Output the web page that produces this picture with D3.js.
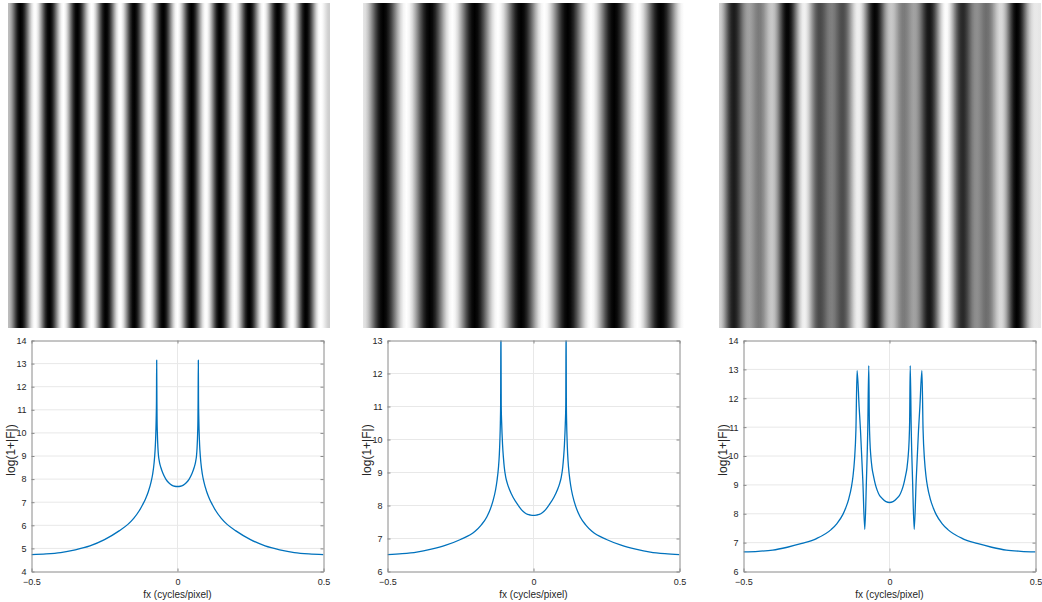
<!DOCTYPE html>
<html>
<head>
<meta charset="utf-8">
<script src="https://cdn.jsdelivr.net/npm/d3@7"></script>
<style>
  body { margin: 0; background: #fff; }
  text { font-family: "Liberation Sans", Arial, sans-serif; }
</style>
</head>
<body>
<svg id="fig" width="1042" height="602"></svg>
<script>
// grating extrema, position as fraction of image width, gray 0..1
const grating1Pos  = [0, .039, .084, .128, .172, .215, .260, .304, .348, .392, .437, .482, .526, .570, .615, .658, .704, .749, .793, .838, .882, .925, .970, 1]
const grating1Gray = [.75, 0, 1, 0, 1, 0, 1, 0, 1, 0, 1, 0, 1, 0, 1, 0, 1, 0, 1, 0, 1, 0, 1, .8]
const grating2Pos  = [0, .063, .135, .207, .277, .347, .419, .491, .563, .636, .708, .780, .852, .925, .997, 1]
const grating2Gray = [.9, 0, 1, 0, 1, 0, 1, 0, 1, 0, 1, 0, 1, 0, 1, 1]

// spectra, log(1+|F|) against fx
const fx1 = [-0.5, -0.45, -0.4, -0.35, -0.3, -0.25, -0.2, -0.17, -0.15, -0.13, -0.12, -0.11, -0.1, -0.09, -0.085, -0.08, -0.077, -0.075, -0.073, -0.072, -0.0713, -0.0705, -0.07, -0.069, -0.067, -0.065, -0.062, -0.057, -0.05, -0.04, -0.03, -0.02, -0.01, 0,
  0.01, 0.02, 0.03, 0.04, 0.05, 0.057, 0.062, 0.065, 0.067, 0.069, 0.07, 0.0705, 0.0713, 0.072, 0.073, 0.075, 0.077, 0.08, 0.085, 0.09, 0.1, 0.11, 0.12, 0.13, 0.15, 0.17, 0.2, 0.25, 0.3, 0.35, 0.4, 0.45, 0.5]
const mag1 = [4.73, 4.76, 4.82, 4.94, 5.11, 5.38, 5.76, 6.04, 6.3, 6.65, 6.88, 7.13, 7.45, 7.9, 8.22, 8.72, 9.2, 9.7, 10.6, 11.4, 13.15, 11.3, 10.6, 10.0, 9.35, 9.0, 8.75, 8.5, 8.25, 8.0, 7.84, 7.74, 7.69, 7.68,
  7.69, 7.74, 7.84, 8.0, 8.25, 8.5, 8.75, 9.0, 9.35, 10.0, 10.6, 11.3, 13.15, 11.4, 10.6, 9.7, 9.2, 8.72, 8.22, 7.9, 7.45, 7.13, 6.88, 6.65, 6.3, 6.04, 5.76, 5.38, 5.11, 4.94, 4.82, 4.76, 4.73]

const fx2 = [-0.5, -0.45, -0.4, -0.35, -0.3, -0.25, -0.2, -0.18, -0.16, -0.14, -0.13, -0.125, -0.12, -0.117, -0.115, -0.1135, -0.1125, -0.1116, -0.1105, -0.109, -0.106, -0.103, -0.1, -0.095, -0.09, -0.083, -0.07, -0.052, -0.04, -0.03, -0.02, -0.01, 0,
  0.01, 0.02, 0.03, 0.04, 0.052, 0.07, 0.083, 0.09, 0.095, 0.1, 0.103, 0.106, 0.109, 0.1105, 0.1116, 0.1125, 0.1135, 0.115, 0.117, 0.12, 0.125, 0.13, 0.14, 0.16, 0.18, 0.2, 0.25, 0.3, 0.35, 0.4, 0.45, 0.5]
const mag2 = [6.51, 6.54, 6.59, 6.68, 6.8, 6.97, 7.22, 7.4, 7.65, 8.1, 8.47, 8.75, 9.15, 9.55, 10.0, 10.5, 11.1, 13.6, 11.0, 10.5, 9.85, 9.45, 9.15, 8.85, 8.68, 8.5, 8.25, 8.0, 7.86, 7.78, 7.73, 7.71, 7.7,
  7.71, 7.73, 7.78, 7.86, 8.0, 8.25, 8.5, 8.68, 8.85, 9.15, 9.45, 9.85, 10.5, 11.0, 13.6, 11.1, 10.5, 10.0, 9.55, 9.15, 8.75, 8.47, 8.1, 7.65, 7.4, 7.22, 6.97, 6.8, 6.68, 6.59, 6.54, 6.51]

const fx3 = [-0.5, -0.45, -0.4, -0.35, -0.3, -0.25, -0.2, -0.18, -0.16, -0.15, -0.14, -0.13, -0.125, -0.12, -0.115, -0.111, -0.104, -0.0994, -0.0914, -0.0846, -0.079, -0.0745, -0.071, -0.069, -0.067, -0.064, -0.06, -0.054, -0.048, -0.042, -0.035, -0.025, -0.012, 0,
  0.012, 0.025, 0.035, 0.042, 0.048, 0.054, 0.06, 0.064, 0.067, 0.069, 0.071, 0.0745, 0.079, 0.0846, 0.0914, 0.0994, 0.104, 0.111, 0.115, 0.12, 0.125, 0.13, 0.14, 0.15, 0.16, 0.18, 0.2, 0.25, 0.3, 0.35, 0.4, 0.45, 0.5]
const mag3 = [6.68, 6.7, 6.74, 6.84, 6.97, 7.14, 7.45, 7.66, 7.97, 8.2, 8.5, 8.95, 9.3, 9.85, 10.9, 12.96, 11.7, 10.9, 9.16, 7.46, 9.16, 10.89, 13.13, 11.2, 10.5, 10.0, 9.6, 9.27, 9.0, 8.81, 8.65, 8.53, 8.42, 8.39,
  8.42, 8.53, 8.65, 8.81, 9.0, 9.27, 9.6, 10.0, 10.5, 11.2, 13.13, 10.89, 9.16, 7.46, 9.16, 10.9, 11.7, 12.96, 10.9, 9.85, 9.3, 8.95, 8.5, 8.2, 7.97, 7.66, 7.45, 7.14, 6.97, 6.84, 6.74, 6.7, 6.68]

const xTicks = [-0.5, 0, 0.5]

const svg = d3.select('#fig')
const defs = svg.append('defs')

const imgTop = 3, imgH = 325, imgW = 322
const plotTop = 340.5, plotH = 231, plotW = 292

const grayColor = g => d3.rgb(g * 255, g * 255, g * 255).formatHex()

// gradient stops between extrema, eased so the stripes come out smooth
const makeGradient = (id, pos, gray) => {
  const offset = d3.scaleLinear().domain([0, 1]).range([0, 100])
  const stops = []
  for (let i = 0; i < pos.length - 1; i++) {
    for (let k = 0; k < 8; k++) {
      const t = k / 8
      stops.push({
        o: offset(d3.interpolateNumber(pos[i], pos[i + 1])(t)),
        g: d3.interpolateNumber(gray[i], gray[i + 1])(d3.easeSinInOut(t))
      })
    }
  }
  stops.push({o: offset(pos[pos.length - 1]), g: gray[gray.length - 1]})
  defs.append('linearGradient')
      .attr('id', id)
      .attr('x1', '0%').attr('x2', '100%').attr('y1', '0%').attr('y2', '0%')
    .selectAll('stop').data(stops)
    .enter()
      .append('stop')
        .attr('offset', d => `${d.o}%`)
        .attr('stop-color', d => grayColor(d.g))
}

makeGradient('grating1', grating1Pos, grating1Gray)
makeGradient('grating2', grating2Pos, grating2Gray)

const renderImage = ({left, layers}) => {
  const g = svg.append('g').attr('transform', `translate(${left}, ${imgTop})`)
  layers.forEach(layer => {
    g.append('rect')
      .attr('width', imgW)
      .attr('height', imgH)
      .attr('fill', `url(#${layer.id})`)
      .attr('opacity', layer.opacity)
  })
}

renderImage({left: 8, layers: [{id: 'grating1', opacity: 1}]})
renderImage({left: 363, layers: [{id: 'grating2', opacity: 1}]})
// third picture is the sum of the two gratings
renderImage({left: 719, layers: [{id: 'grating2', opacity: 1}, {id: 'grating1', opacity: 0.5}]})

const renderPlot = ({left, fx, mag, yDomain, id}) => {
  const g = svg.append('g').attr('transform', `translate(${left}, ${plotTop})`)
  const x = d3.scaleLinear().domain([-0.5, 0.5]).range([0, plotW])
  const y = d3.scaleLinear().domain(yDomain).range([plotH, 0])
  const yTicks = d3.range(yDomain[0], yDomain[1] + 1)

  g.append('rect').attr('width', plotW).attr('height', plotH).attr('fill', '#fff')

  g.selectAll('.ygrid').data(yTicks.slice(1, -1))
  .enter()
    .append('line')
      .attr('x1', 0).attr('x2', plotW)
      .attr('y1', d => y(d)).attr('y2', d => y(d))
      .attr('stroke', '#e8e8e8')
  g.selectAll('.xgrid').data(xTicks.slice(1, -1))
  .enter()
    .append('line')
      .attr('x1', d => x(d)).attr('x2', d => x(d))
      .attr('y1', 0).attr('y2', plotH)
      .attr('stroke', '#e8e8e8')

  defs.append('clipPath').attr('id', `clip-${id}`)
    .append('rect').attr('width', plotW).attr('height', plotH)

  const line = d3.line()
    .x((d, i) => x(fx[i]))
    .y(d => y(d))
    .curve(d3.curveMonotoneX)
  g.append('path')
    .datum(mag)
    .attr('clip-path', `url(#clip-${id})`)
    .attr('d', line)
    .attr('fill', 'none')
    .attr('stroke', '#0072bd')
    .attr('stroke-width', 1.3)
    .attr('stroke-linejoin', 'round')

  const axisColor = '#8a8a8a'
  const styleAxis = sel => {
    sel.select('.domain').attr('stroke', axisColor)
    sel.selectAll('.tick line').attr('stroke', axisColor)
    sel.selectAll('.tick text').attr('fill', '#262626').style('font-size', '9px')
  }

  g.append('g')
    .call(d3.axisLeft(y).tickValues(yTicks).tickFormat(d3.format('d')).tickSize(-3).tickSizeOuter(0).tickPadding(5))
    .call(styleAxis)
  g.append('g')
    .attr('transform', `translate(${plotW}, 0)`)
    .call(d3.axisRight(y).tickValues(yTicks).tickFormat('').tickSize(-3).tickSizeOuter(0))
    .call(styleAxis)
  g.append('g')
    .attr('transform', `translate(0, ${plotH})`)
    .call(d3.axisBottom(x).tickValues(xTicks).tickFormat(d3.format('')).tickSize(-3).tickSizeOuter(0).tickPadding(7))
    .call(styleAxis)
  g.append('g')
    .call(d3.axisTop(x).tickValues(xTicks).tickFormat('').tickSize(-3).tickSizeOuter(0))
    .call(styleAxis)

  g.append('text')
    .attr('x', plotW / 2)
    .attr('y', plotH + 26)
    .attr('text-anchor', 'middle')
    .attr('fill', '#262626')
    .style('font-size', '10px')
    .text('fx (cycles/pixel)')

  g.append('text')
    .attr('transform', `translate(-17, ${plotH / 2 - 6}) rotate(-90)`)
    .attr('text-anchor', 'middle')
    .attr('fill', '#262626')
    .style('font-size', '12px')
    .text('log(1+|F|)')
}

renderPlot({left: 31.5, fx: fx1, mag: mag1, yDomain: [4, 14], id: 'p1'})
renderPlot({left: 387.5, fx: fx2, mag: mag2, yDomain: [6, 13], id: 'p2'})
renderPlot({left: 743.5, fx: fx3, mag: mag3, yDomain: [6, 14], id: 'p3'})
</script>
</body>
</html>
